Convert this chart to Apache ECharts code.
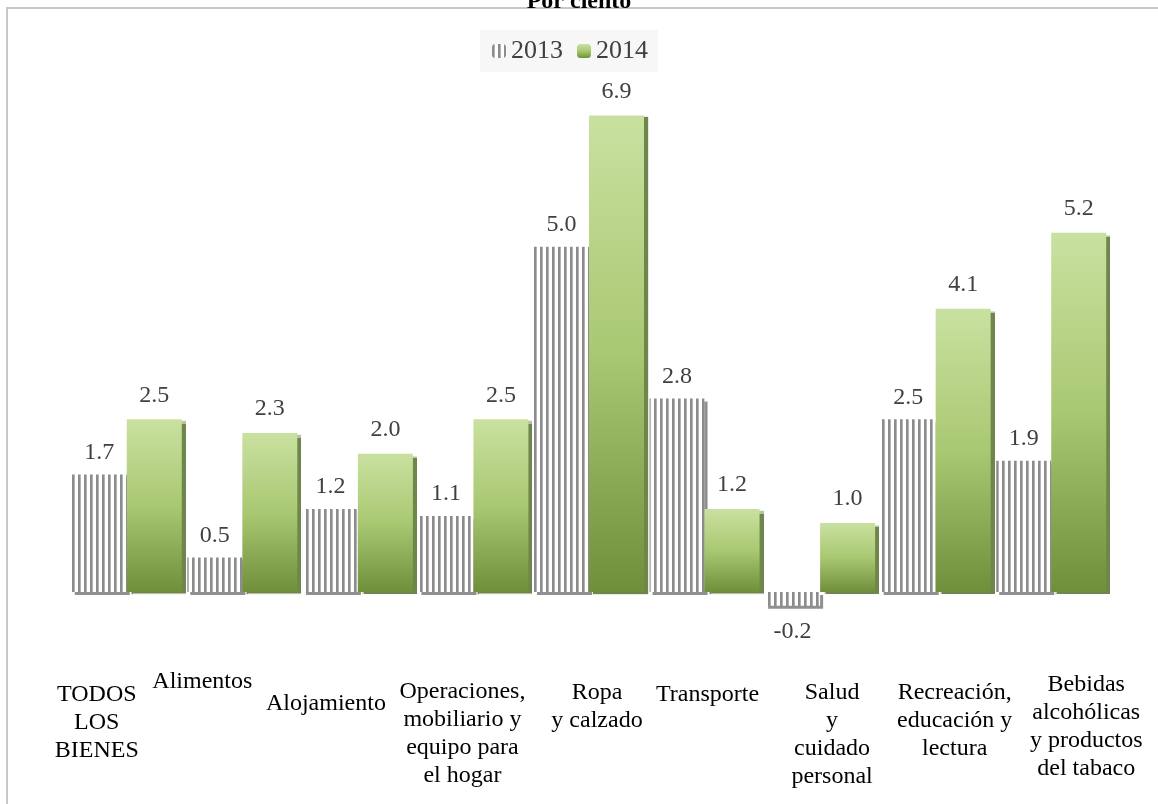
<!DOCTYPE html>
<html>
<head>
<meta charset="utf-8">
<script src="https://cdn.jsdelivr.net/npm/echarts@6/dist/echarts.min.js"></script>
<style>
html,body{margin:0;padding:0;background:#fff;}
#chart{width:1158px;height:804px;}
</style>
</head>
<body>
<div id="chart"></div>
<script>
var categories = ['TODOS\nLOS\nBIENES', 'Alimentos', 'Alojamiento', 'Operaciones,\nmobiliario y\nequipo para\nel hogar', 'Ropa\ny calzado', 'Transporte', 'Salud\ny\ncuidado\npersonal', 'Recreación,\neducación y\nlectura', 'Bebidas\nalcohólicas\ny productos\ndel tabaco'];
var values2013 = [1.7, 0.5, 1.2, 1.1, 5.0, 2.8, -0.2, 2.5, 1.9];
var values2014 = [2.5, 2.3, 2.0, 2.5, 6.9, 1.2, 1.0, 4.1, 5.2];
var seriesNames = ['2013', '2014'];

// label nudges (dx: horizontal, top: vertical padding)
var labelDx = [-30, -40, -32, -11, 8, 3, 12, 19, 35];
var labelTop = [16, 3, 25, 13, 14, 16, 14, 14, 6];

var FONT = 'Liberation Serif';

var cv = document.createElement('canvas');
cv.width = 6; cv.height = 4;
var cx = cv.getContext('2d');
cx.fillStyle = '#ffffff'; cx.fillRect(0, 0, 6, 4);
cx.fillStyle = '#8c8c8c'; cx.fillRect(0, 0, 2, 4);
cx.fillStyle = '#b4b4b4'; cx.fillRect(2, 0, 1, 4);

var greenGrad = new echarts.graphic.LinearGradient(0, 0, 0, 1, [
  {offset: 0, color: '#c9e1a0'},
  {offset: 0.5, color: '#a9c872'},
  {offset: 1, color: '#6f8f3b'}
]);

var catData = categories.map(function (c, i) {
  var dx = labelDx[i];
  return {
    value: c,
    textStyle: {
      padding: [labelTop[i], dx < 0 ? -2 * dx : 0, 0, dx > 0 ? 2 * dx : 0]
    }
  };
});

var data2013 = values2013.map(function (v) {
  if (v < 0) return {value: v, label: {position: 'bottom', distance: 14}};
  return v;
});

var chart = echarts.init(document.getElementById('chart'), null, {renderer: 'canvas'});
chart.setOption({
  animation: false,
  backgroundColor: '#ffffff',
  textStyle: {fontFamily: FONT},
  title: {
    text: 'Por ciento',
    left: 'center',
    top: -15,
    textStyle: {fontFamily: FONT, fontSize: 24, fontWeight: 'bold', color: '#000'}
  },
  graphic: [{
    type: 'rect',
    shape: {x: 7, y: 8, width: 1170, height: 820},
    style: {fill: 'none', stroke: '#c8c8c8', lineWidth: 2},
    silent: true
  }],
  legend: {
    left: 480,
    top: 30,
    padding: [8, 10, 8, 12],
    backgroundColor: '#f7f7f7',
    itemWidth: 14,
    itemHeight: 14,
    itemGap: 14,
    textStyle: {fontFamily: FONT, fontSize: 26, color: '#404040'},
    itemStyle: {shadowColor: 'transparent', shadowBlur: 0, shadowOffsetX: 0, shadowOffsetY: 0},
    data: seriesNames
  },
  grid: {left: 69, right: 49, top: 74, bottom: 143},
  xAxis: {
    type: 'category',
    data: catData,
    axisLine: {show: false, onZero: false},
    axisTick: {show: false},
    axisLabel: {
      interval: 0,
      hideOverlap: false,
      margin: 4,
      fontFamily: FONT,
      fontSize: 24,
      lineHeight: 28,
      color: '#000'
    }
  },
  yAxis: {
    type: 'value',
    min: -1,
    max: 7.5,
    show: false,
    splitLine: {show: false}
  },
  series: [{
    name: seriesNames[0],
    type: 'bar',
    data: data2013,
    barWidth: 55,
    barGap: '0%',
    itemStyle: {
      color: {image: cv, repeat: 'repeat'},
      shadowColor: 'rgba(70,70,70,0.6)',
      shadowOffsetX: 3,
      shadowOffsetY: 3,
      shadowBlur: 1
    },
    label: {
      show: true,
      position: 'top',
      distance: 10,
      fontFamily: FONT,
      fontSize: 24,
      color: '#404040',
      formatter: function (p) { return p.value.toFixed(1); }
    }
  }, {
    name: seriesNames[1],
    type: 'bar',
    data: values2014,
    barWidth: 55,
    barGap: '0%',
    itemStyle: {
      color: greenGrad,
      shadowColor: 'rgba(85,112,44,0.85)',
      shadowOffsetX: 4,
      shadowOffsetY: 2,
      shadowBlur: 1
    },
    label: {
      show: true,
      position: 'top',
      distance: 12,
      fontFamily: FONT,
      fontSize: 24,
      color: '#404040',
      formatter: function (p) { return p.value.toFixed(1); }
    }
  }]
});
</script>
</body>
</html>
